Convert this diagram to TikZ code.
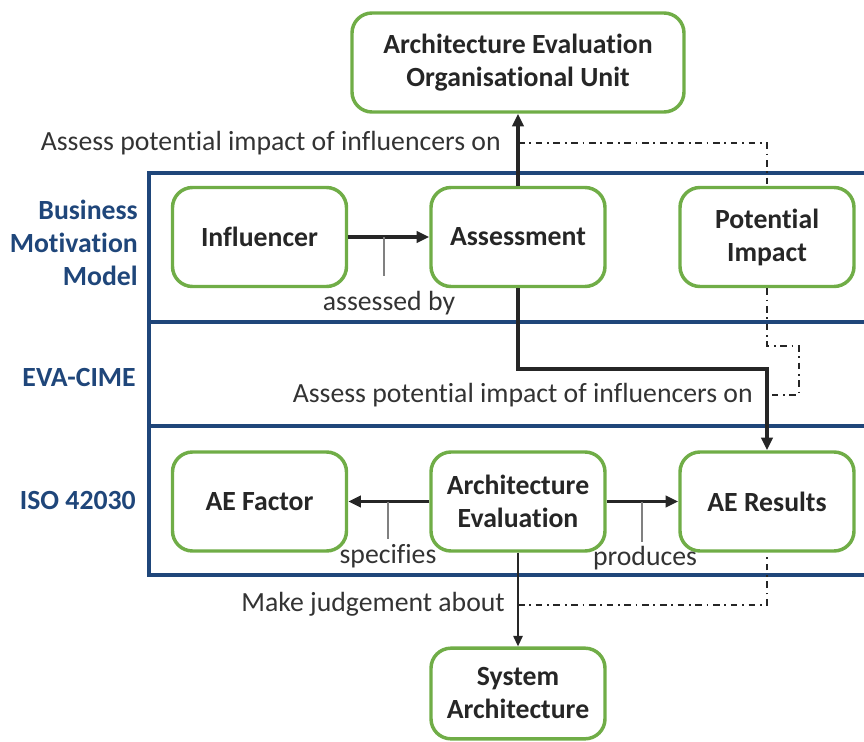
\documentclass[tikz,border=0pt]{standalone}
\usepackage{fontspec}
\setmainfont{Carlito}[Ligatures=NoCommon]
\usetikzlibrary{arrows.meta}
\definecolor{boxgreen}{HTML}{70AD47}
\definecolor{navy}{HTML}{1F467A}
\definecolor{ink}{HTML}{262626}
\definecolor{txt}{HTML}{333333}
\tikzset{
  box/.style={draw=boxgreen, line width=2.6pt, rounded corners=15pt, fill=white,
    text=ink, font=\fontsize{20.8}{24.75}\selectfont\bfseries, align=center,
    inner sep=0pt, minimum width=130.5pt, minimum height=74.25pt},
  band/.style={draw=navy, line width=3pt},
  layer/.style={text=navy, font=\fontsize{20.8}{24.5}\selectfont\bfseries, align=right, anchor=east, inner sep=0pt},
  lbl/.style={text=txt, font=\fontsize{20.8}{24}\selectfont, inner sep=0pt},
  bigarrow/.style={draw=ink, line width=2.6pt, -{Triangle[length=9.5pt,width=8.5pt]}},
  thinarrow/.style={draw=ink, line width=1.5pt, -{Triangle[length=8pt,width=7pt]}},
  tick/.style={draw=gray, line width=0.8pt},
  dashdot/.style={draw=ink, line width=1.5pt, dash pattern=on 5pt off 3.5pt on 1.3pt off 3.5pt}
}
\begin{document}
\begin{tikzpicture}[x=0.75pt, y=-0.75pt]
\useasboundingbox (0,0) rectangle (864,742);
\clip (0,0) rectangle (864,742);
% bands
\draw[band] (149,173) rectangle (900,575);
\draw[band] (149,322) -- (900,322);
\draw[band] (149,426) -- (900,426);
% layer labels
\node[layer] (bmm) at (138,243) {Business\\Motivation\\Model};
\node[layer] (eva) at (136,377) {EVA-CIME};
\node[layer] (iso) at (136,500) {ISO 42030};
% nodes
\node[box, minimum width=249pt] (org) at (518,62.5) {Architecture Evaluation\\Organisational Unit};
\node[box] (inf) at (259.5,237) {Influencer};
\node[box] (ass) at (518,237) {Assessment};
\node[box] (pot) at (767,237) {Potential\\Impact};
\node[box] (fac) at (259.5,501.5) {AE Factor};
\node[box] (ae) at (518,501.5) {Architecture\\Evaluation};
\node[box] (res) at (767,501.5) {AE Results};
\node[box, minimum height=68pt] (sys) at (518,693.5) {System\\Architecture};
% main connectors
\draw[bigarrow] (ass.north) -- (org.south);
\draw[bigarrow] (inf.east) -- (ass.west);
\draw[bigarrow] (ae.west) -- (fac.east);
\draw[bigarrow] (ae.east) -- (res.west);
\coordinate (bend1) at (518,369);
\coordinate (bend2) at (767,369);
\draw[bigarrow, line width=2.4pt] (ass.south) -- (bend1) -- (bend2) -- (res.north);
\draw[thinarrow] (ae.south) -- (sys.north);
% ticks
\coordinate (t1a) at (384,237);
\coordinate (t1b) at (384,276);
\draw[tick] (t1a) -- (t1b);
\coordinate (t2a) at (388,501.5);
\coordinate (t2b) at (388,539);
\draw[tick] (t2a) -- (t2b);
\coordinate (t3a) at (642,501.5);
\coordinate (t3b) at (642,542);
\draw[tick] (t3a) -- (t3b);
% labels
\node[lbl] (lassess) at (389,303) {assessed by};
\node[lbl] (lspec) at (388,556) {specifies};
\node[lbl] (lprod) at (645,558) {produces};
\node[lbl, anchor=east] (ltop) at (501,143) {Assess potential impact of influencers on};
\node[lbl, anchor=east] (lmid) at (753,395) {Assess potential impact of influencers on};
\node[lbl, anchor=east] (lbot) at (505,604) {Make judgement about};
% dash-dot links
\coordinate (d1) at (518,143);
\coordinate (d1b) at (767,143);
\draw[dashdot] (d1) -- (d1b) -- (pot.north);
\coordinate (d2a) at (767,346);
\coordinate (d2b) at (799,346);
\coordinate (d2c) at (799,395);
\coordinate (d2d) at (767,395);
\draw[dashdot] (pot.south) -- (d2a) -- (d2b) -- (d2c) -- (d2d);
\coordinate (d3) at (518,605);
\coordinate (d3b) at (767,605);
\draw[dashdot] (d3) -- (d3b) -- (res.south);
\end{tikzpicture}
\end{document}
